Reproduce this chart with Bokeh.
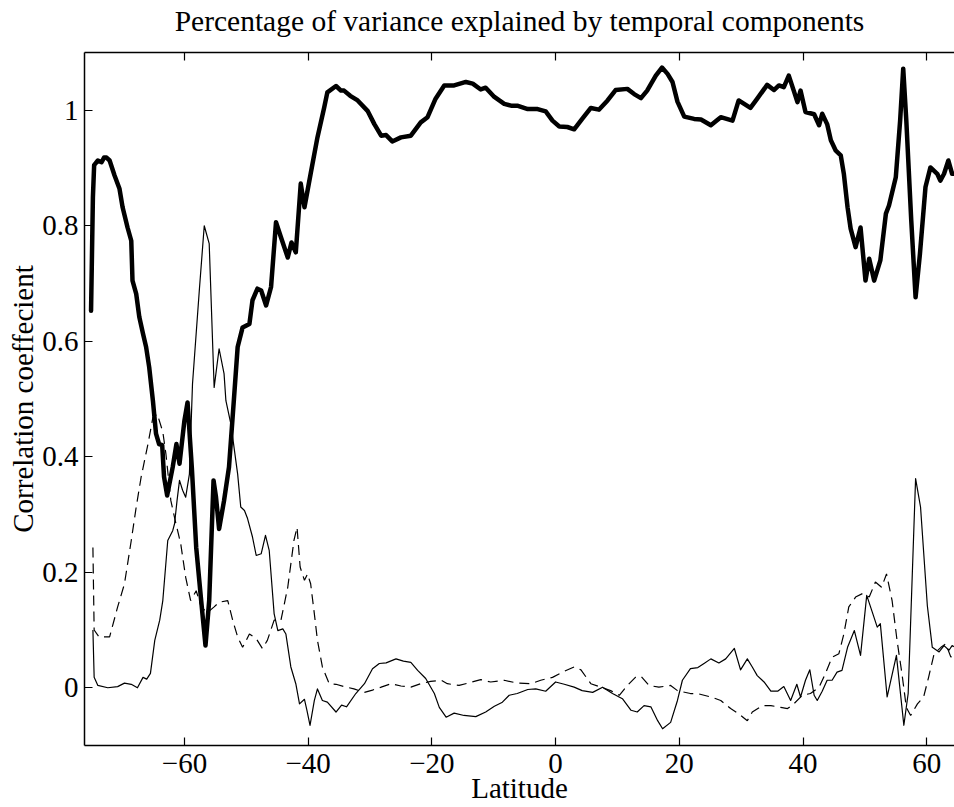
from bokeh.plotting import figure
from bokeh.models import LinearAxis, FixedTicker, Range1d
from bokeh.embed import file_html
from bokeh.resources import INLINE

# ---- data ----
thick_x = [-75.1, -74.8, -74.6, -74.0, -73.4, -73.0, -72.6, -72.1, -71.3, -70.5, -70.0, -69.2, -68.6, -68.4,
           -67.8, -67.3, -66.7, -66.2, -65.7, -65.1, -64.6, -64.1, -63.6, -63.3, -62.8, -61.9, -61.3, -60.8,
           -60.0, -59.5, -58.8, -58.1, -57.3, -56.6, -56.0, -55.3, -54.9, -54.4, -53.6, -52.8, -52.0, -51.4,
           -50.6, -49.5, -49.0, -48.2, -47.6, -46.8, -46.0, -45.2, -44.4, -43.3, -42.7, -42.0, -41.2, -40.6,
           -39.6, -38.5, -37.4, -36.9, -35.5, -34.7, -34.2, -33.2, -32.0, -30.4, -29.3, -28.2, -27.4, -26.4,
           -25.0, -23.4, -21.8, -20.7, -19.4, -18.0, -16.4, -14.5, -13.4, -12.1, -11.3, -9.9, -8.3, -7.2,
           -6.2, -4.5, -2.9, -1.6, -0.5, 0.6, 1.9, 3.0, 4.3, 5.7, 7.0, 8.4, 9.7, 11.6, 12.7, 13.8, 14.8,
           16.2, 17.2, 18.1, 18.9, 19.7, 20.8, 22.4, 23.5, 25.1, 26.7, 28.6, 29.6, 31.5, 32.6, 34.2, 35.3,
           36.1, 36.9, 37.7, 38.5, 39.1, 39.6, 40.4, 41.8, 42.6, 43.1, 43.9, 44.5, 45.3, 46.1, 46.6, 47.2,
           47.7, 48.5, 49.3, 50.1, 50.7, 51.5, 52.5, 53.4, 53.9, 55.0, 55.7, 56.2, 56.7, 57.5, 58.2, 58.9,
           59.8, 60.6, 61.7, 62.2, 62.8, 63.5, 64.1, 64.6]
thick_y = [0.653, 0.85, 0.905, 0.913, 0.91, 0.918, 0.918, 0.913, 0.887, 0.864, 0.832, 0.797, 0.774, 0.705,
           0.682, 0.642, 0.613, 0.590, 0.555, 0.497, 0.44, 0.422, 0.42, 0.365, 0.333, 0.382, 0.422, 0.388,
           0.463, 0.494, 0.38, 0.243, 0.151, 0.073, 0.151, 0.359, 0.33, 0.275, 0.324, 0.382, 0.5, 0.59,
           0.624, 0.63, 0.671, 0.691, 0.688, 0.662, 0.694, 0.806, 0.78, 0.745, 0.771, 0.754, 0.873, 0.832,
           0.89, 0.953, 1.005, 1.031, 1.042, 1.034, 1.034, 1.025, 1.017, 0.999, 0.976, 0.956, 0.957, 0.946,
           0.953, 0.956, 0.979, 0.988, 1.02, 1.043, 1.043, 1.049, 1.046, 1.036, 1.039, 1.023, 1.011, 1.008,
           1.008, 1.002, 1.002, 0.998, 0.982, 0.972, 0.971, 0.967, 0.985, 1.004, 1.001, 1.017, 1.035, 1.037,
           1.028, 1.021, 1.034, 1.06, 1.074, 1.063, 1.049, 1.015, 0.989, 0.985, 0.984, 0.974, 0.988, 0.982,
           1.017, 1.004, 1.02, 1.044, 1.035, 1.043, 1.04, 1.06, 1.034, 1.014, 1.034, 0.997, 0.993, 0.974,
           0.994, 0.976, 0.948, 0.93, 0.922, 0.89, 0.832, 0.795, 0.763, 0.797, 0.705, 0.743, 0.705, 0.74,
           0.821, 0.835, 0.884, 0.982, 1.072, 0.982, 0.809, 0.676, 0.751, 0.867, 0.901, 0.89, 0.878, 0.89,
           0.913, 0.89, 0.89]

thin_x = [-74.8, -74.6, -74.0, -72.4, -70.8, -69.7, -68.6, -67.6, -66.7, -66.1, -65.5, -64.8, -64.0, -63.5,
          -62.7, -61.9, -61.6, -61.2, -60.8, -60.3, -59.8, -59.2, -58.7, -57.6, -56.8, -56.0, -55.2, -54.4,
          -53.6, -53.3, -52.5, -51.4, -50.9, -50.3, -49.8, -49.0, -48.4, -47.6, -46.9, -46.3, -45.5, -44.9,
          -44.1, -43.6, -42.8, -42.0, -41.4, -40.6, -40.2, -39.7, -39.0, -38.5, -37.7, -36.9, -35.5, -34.6,
          -33.8, -32.3, -30.9, -29.6, -28.5, -27.4, -25.8, -24.6, -23.4, -22.3, -21.0, -19.6, -18.8, -17.7,
          -16.4, -14.8, -12.9, -11.3, -9.9, -8.6, -7.5, -6.2, -4.5, -3.2, -1.6, 0.0, 1.4, 3.0, 4.3, 6.0,
          7.6, 9.2, 10.8, 12.2, 13.2, 14.3, 15.4, 16.5, 17.3, 18.6, 19.7, 20.5, 21.8, 23.0, 24.0, 25.1,
          26.4, 27.5, 28.9, 29.9, 31.0, 31.8, 32.6, 33.7, 34.8, 35.9, 36.9, 38.0, 39.0, 39.6, 40.4, 41.1,
          41.8, 42.3, 43.1, 43.9, 44.7, 45.5, 46.3, 47.2, 48.3, 49.3, 50.3, 51.2, 52.0, 52.5, 53.6, 55.1,
          56.3, 57.0, 58.2, 59.0, 60.1, 60.9, 62.0, 62.8, 63.6, 64.1, 64.6]
thin_y = [0.10, 0.018, 0.004, 0.0, 0.002, 0.008, 0.006, 0.0, 0.018, 0.015, 0.025, 0.082, 0.117, 0.151,
          0.255, 0.272, 0.284, 0.324, 0.359, 0.342, 0.33, 0.37, 0.526, 0.688, 0.80, 0.769, 0.52, 0.587,
          0.544, 0.497, 0.457, 0.37, 0.313, 0.307, 0.293, 0.261, 0.229, 0.232, 0.264, 0.238, 0.128, 0.099,
          0.102, 0.093, 0.036, 0.007, -0.028, -0.02, -0.039, -0.065, -0.022, -0.002, -0.022, -0.025, -0.042, -0.03,
          -0.033, -0.01, 0.007, 0.033, 0.042, 0.043, 0.05, 0.046, 0.044, 0.03, 0.016, -0.01, -0.034, -0.051,
          -0.044, -0.048, -0.05, -0.042, -0.032, -0.025, -0.013, -0.01, -0.003, -0.002, -0.006, 0.01, 0.006, 0.001, -0.005, -0.008,
          0.001, -0.01, -0.019, -0.039, -0.042, -0.031, -0.033, -0.057, -0.071, -0.06, -0.022, 0.013, 0.033, 0.035, 0.042, 0.05,
          0.043, 0.05, 0.068, 0.031, 0.05, 0.036, 0.021, 0.01, -0.006, -0.006, 0.002, -0.022, 0.006, -0.016, 0.013, 0.031,
          -0.013, -0.022, -0.006, 0.013, 0.013, 0.027, 0.03, 0.07, 0.099, 0.056, 0.16, 0.131, 0.105, 0.111, -0.016, 0.056,
          -0.065, -0.01, 0.362, 0.313, 0.142, 0.07, 0.062, 0.073, 0.065, 0.073, 0.07]

dash_x = [-74.8, -74.6, -73.8, -72.1, -70.8, -69.7, -68.6, -67.8, -67.0, -65.9, -65.1, -64.4, -63.5, -63.0,
          -62.2, -61.5, -60.6, -59.8, -59.0, -58.1, -57.3, -56.3, -55.2, -54.4, -53.0, -52.2, -51.4, -50.6,
          -49.5, -48.4, -47.4, -46.6, -45.5, -44.4, -43.3, -42.3, -41.8, -41.3, -40.6, -40.1, -39.6, -39.0,
          -38.5, -37.7, -36.6, -35.5, -34.2, -32.6, -30.9, -29.6, -28.2, -26.6, -25.0, -23.4, -21.8, -20.2,
          -18.5, -17.5, -15.6, -14.2, -12.1, -10.5, -8.3, -6.2, -4.0, -2.4, -0.5, 1.1, 3.0, 4.1, 5.7, 7.3,
          8.9, 10.3, 11.6, 12.9, 13.8, 15.1, 16.7, 18.6, 19.7, 21.8, 22.9, 25.1, 26.7, 28.3, 29.6, 31.0,
          31.8, 33.4, 34.8, 36.4, 37.5, 38.5, 39.9, 41.2, 42.6, 43.6, 44.7, 45.8, 46.6, 47.4, 48.5, 49.6,
          50.7, 51.7, 52.7, 53.5, 54.4, 55.2, 56.0, 56.7, 57.4, 58.5, 59.5, 60.3, 61.2, 62.3, 63.1, 63.9, 64.6]
dash_y = [0.243, 0.10, 0.088, 0.088, 0.14, 0.18, 0.255, 0.313, 0.365, 0.422, 0.468, 0.474, 0.443, 0.405,
          0.324, 0.29, 0.249, 0.191, 0.151, 0.168, 0.14, 0.13, 0.14, 0.148, 0.151, 0.117, 0.088, 0.07,
          0.093, 0.085, 0.068, 0.082, 0.117, 0.117, 0.174, 0.255, 0.278, 0.209, 0.186, 0.197, 0.18, 0.128,
          0.082, 0.036, 0.007, 0.006, 0.002, -0.002, -0.008, -0.004, 0.001, 0.007, 0.003, 0.001, 0.007, 0.011,
          0.013, 0.007, 0.004, 0.008, 0.014, 0.01, 0.013, 0.008, 0.007, 0.013, 0.018, 0.027, 0.036, 0.031, 0.007, 0.001,
          -0.005, -0.013, 0.004, 0.018, 0.02, 0.004, 0.001, 0.004, -0.005, -0.01, -0.01, -0.016, -0.022, -0.036, -0.045, -0.057,
          -0.042, -0.031, -0.031, -0.034, -0.036, -0.028, -0.013, -0.01, 0.001, 0.024, 0.053, 0.059, 0.093, 0.14, 0.157, 0.163,
          0.157, 0.183, 0.174, 0.197, 0.151, 0.082, 0.024, -0.034, -0.048, -0.028, -0.016, 0.018, 0.059, 0.07, 0.076, 0.053, 0.06]

x_ticks = [-60, -40, -20, 0, 20, 40, 60]
x_tick_labels = ["\u221260", "\u221240", "\u221220", "0", "20", "40", "60"]
y_ticks = [0, 0.2, 0.4, 0.6, 0.8, 1.0]
y_tick_labels = ["0", "0.2", "0.4", "0.6", "0.8", "1"]

FONT = "Liberation Serif"
FS = "29px"

p = figure(width=954, height=807, output_backend="svg", toolbar_location=None,
           x_range=Range1d(-76.16, 64.49), y_range=Range1d(-0.1, 1.1),
           x_axis_location=None, y_axis_location=None,
           min_border_left=84, min_border_right=0, min_border_top=0, min_border_bottom=62)
p.outline_line_color = None
p.grid.visible = False
p.background_fill_color = "white"
p.border_fill_color = "white"

p.title.text = "Percentage of variance explained by temporal components"
p.title.text_font = FONT
p.title.text_font_size = "29.5px"
p.title.text_font_style = "normal"
p.title.text_color = "black"
p.title.align = "center"
p.title.standoff = 4


def style_axis(ax, ticks, labels, show_labels=True):
    ax.ticker = FixedTicker(ticks=ticks)
    ax.major_tick_in = 8
    ax.major_tick_out = 0
    ax.minor_tick_in = 0
    ax.minor_tick_out = 0
    ax.axis_line_color = "black"
    ax.axis_line_width = 1.5
    ax.major_tick_line_color = "black"
    ax.major_tick_line_width = 1.2
    ax.major_label_text_font = FONT
    ax.axis_label_text_font = FONT
    ax.axis_label_text_font_size = FS
    ax.axis_label_text_font_style = "normal"
    ax.axis_label_text_color = "black"
    if show_labels:
        ax.major_label_overrides = {float(t): l for t, l in zip(ticks, labels)}
        ax.major_label_text_font_size = FS
        ax.major_label_text_color = "black"
    else:
        ax.major_label_text_color = None
        ax.major_label_text_font_size = "1px"
        ax.major_label_standoff = 0


xb = LinearAxis(axis_label="Latitude")
style_axis(xb, x_ticks, x_tick_labels)
xb.major_label_standoff = 8
xb.axis_label_standoff = -4
p.add_layout(xb, "below")

xt = LinearAxis()
style_axis(xt, x_ticks, x_tick_labels, show_labels=False)
p.add_layout(xt, "above")

# invisible spacer between the title and the top frame edge
spacer = LinearAxis()
style_axis(spacer, x_ticks, x_tick_labels, show_labels=False)
spacer.axis_line_color = None
spacer.major_tick_line_color = None
spacer.major_tick_in = 0
spacer.major_tick_out = 14
p.add_layout(spacer, "above")

yl = LinearAxis(axis_label="Correlation coeffecient")
style_axis(yl, y_ticks, y_tick_labels)
yl.major_label_standoff = 6
yl.axis_label_standoff = 0
p.add_layout(yl, "left")

p.line(dash_x, dash_y, line_color="black", line_width=1.2, line_dash="10 6")
p.line(thin_x, thin_y, line_color="black", line_width=1.2, line_join="round")
p.line(thick_x, thick_y, line_color="black", line_width=4.5, line_join="round", line_cap="round")

open("out.html", "w").write(file_html(p, INLINE))
